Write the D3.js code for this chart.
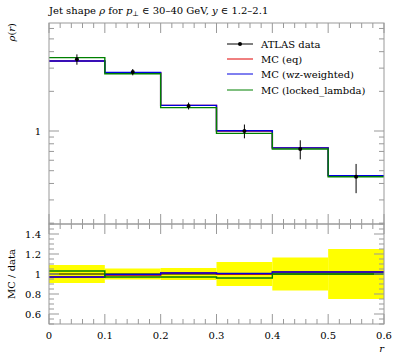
<!DOCTYPE html>
<html><head><meta charset="utf-8">
<script src="https://cdn.jsdelivr.net/npm/d3@7"></script>
<style>
body{margin:0;background:#fff;}
</style></head>
<body><svg id="c" width="397" height="358" font-family="'DejaVu Serif', serif"></svg>
<script>
const binEdges = [0, 0.1, 0.2, 0.3, 0.4, 0.5, 0.6];
const dataVals = [3.5, 2.8, 1.55, 1.0, 0.73, 0.45];
const dataErrRel = [0.09, 0.055, 0.06, 0.12, 0.165, 0.25];
const ratioEq = [0.97, 0.99, 1.01, 1.00, 1.02, 1.02];
const ratioWz = [0.97, 0.995, 1.01, 1.005, 1.02, 1.02];
const ratioLocked = [1.03, 0.97, 0.97, 0.96, 1.00, 1.00];
const seriesNames = ["MC (eq)", "MC (wz-weighted)", "MC (locked_lambda)"];
const seriesColors = ["#e00000", "#0000e0", "#008000"];
const xTicks = [0, 0.1, 0.2, 0.3, 0.4, 0.5, 0.6];
const ratioTicks = [0.6, 0.8, 1, 1.2, 1.4];

const svg = d3.select("#c");
const L = 49, R = 384, T = 23, M = 224, B = 324;
const x = d3.scaleLinear().domain([0, 0.6]).range([L, R]);
const y = d3.scaleLog().domain([0.197, 6.6]).range([M, T]);
const yr = d3.scaleLinear().domain([0.5, 1.5]).range([B, M]);
const axisCol = "#999";
const FS = 10;

const defs = svg.append("defs");
defs.append("clipPath").attr("id","ct").append("rect").attr("x",L).attr("y",T).attr("width",R-L).attr("height",M-T);
defs.append("clipPath").attr("id","cr").append("rect").attr("x",L).attr("y",M).attr("width",R-L).attr("height",B-M);

const ratios = [ratioEq, ratioWz, ratioLocked];
const mcVals = ratios.map(r => r.map((v,i) => v*dataVals[i]));

function stepPath(vals, ys){
  let p = "";
  vals.forEach((v,i)=>{
    const x0 = x(binEdges[i]), x1 = x(binEdges[i+1]), yy = ys(v);
    p += (i===0 ? "M"+x0+","+yy : "L"+x0+","+yy) + "L"+x1+","+yy;
  });
  return p;
}

const gr = svg.append("g").attr("clip-path","url(#cr)");
dataVals.forEach((v,i)=>{
  const e = dataErrRel[i];
  gr.append("rect").attr("x", x(binEdges[i])).attr("width", x(binEdges[i+1])-x(binEdges[i]))
    .attr("y", yr(1+e)).attr("height", yr(1-e)-yr(1+e)).attr("fill","#ffff00");
});
gr.append("line").attr("x1",L).attr("x2",R).attr("y1",yr(1)).attr("y2",yr(1)).attr("stroke","#000").attr("stroke-width",1);
ratios.forEach((r,k)=>{
  gr.append("path").attr("d", stepPath(r, yr)).attr("fill","none").attr("stroke",seriesColors[k]).attr("stroke-width",1.4);
});

const gt = svg.append("g").attr("clip-path","url(#ct)");
mcVals.forEach((m,k)=>{
  gt.append("path").attr("d", stepPath(m, y)).attr("fill","none").attr("stroke",seriesColors[k]).attr("stroke-width",1.4);
});
dataVals.forEach((v,i)=>{
  const cx = x((binEdges[i]+binEdges[i+1])/2);
  gt.append("line").attr("x1",cx).attr("x2",cx).attr("y1",y(v*(1+dataErrRel[i]))).attr("y2",y(v*(1-dataErrRel[i])))
    .attr("stroke","#000").attr("stroke-width",1);
  gt.append("circle").attr("cx",cx).attr("cy",y(v)).attr("r",2).attr("fill","#000");
});

[[T,M],[M,B]].forEach(([a,b])=>{
  svg.append("rect").attr("x",L).attr("y",a).attr("width",R-L).attr("height",b-a)
    .attr("fill","none").attr("stroke",axisCol).attr("stroke-width",1);
});

function tick(x1,y1,x2,y2){
  svg.append("line").attr("x1",x1).attr("y1",y1).attr("x2",x2).attr("y2",y2).attr("stroke",axisCol).attr("stroke-width",1);
}
const xMinor = d3.range(0, 0.6001, 0.02);
[[T,M],[M,B]].forEach(([a,b])=>{
  xMinor.forEach(t=>{
    const major = Math.abs(t*10 - Math.round(t*10)) < 1e-6;
    const len = major ? 10 : 5;
    const px = x(t);
    tick(px, b, px, b-len);
    tick(px, a, px, a+len);
  });
});
const logTicks = [0.2,0.3,0.4,0.5,0.6,0.7,0.8,0.9,1,2,3,4,5,6];
logTicks.forEach(t=>{
  const len = t===1 ? 10 : 5;
  const py = y(t);
  tick(L, py, L+len, py);
  tick(R, py, R-len, py);
});
svg.append("text").attr("x",L-8).attr("y",y(1)+3.5).attr("text-anchor","end").attr("font-size",FS).text("1");
d3.range(0.5, 1.5001, 0.05).forEach(t=>{
  const major = ratioTicks.some(r=>Math.abs(r-t)<1e-6);
  const len = major ? 10 : 5;
  const py = yr(t);
  tick(L, py, L+len, py);
  tick(R, py, R-len, py);
});
ratioTicks.forEach(t=>{
  svg.append("text").attr("x",L-8).attr("y",yr(t)+3.5).attr("text-anchor","end").attr("font-size",FS)
    .text(t===1 ? "1" : d3.format(".1f")(t));
});
xTicks.forEach(t=>{
  svg.append("text").attr("x",x(t)).attr("y",339).attr("text-anchor","middle").attr("font-size",FS)
    .text(t===0 ? "0" : d3.format(".1f")(t));
});
svg.append("text").attr("x",R).attr("y",352).attr("text-anchor","end").attr("font-size",FS).attr("font-style","italic").text("r");

const title = svg.append("text").attr("x",L).attr("y",14).attr("font-size",FS);
title.append("tspan").text("Jet shape ");
title.append("tspan").attr("font-style","italic").text("ρ");
title.append("tspan").text(" for ");
title.append("tspan").attr("font-style","italic").text("p");
title.append("tspan").attr("font-size",7).attr("dy",2).text("⊥");
title.append("tspan").attr("dy",-2).text(" ∈ 30–40 GeV, ");
title.append("tspan").attr("font-style","italic").text("y");
title.append("tspan").text(" ∈ 1.2–2.1");

const yl = svg.append("text").attr("transform","translate(15,"+T+") rotate(-90)").attr("text-anchor","end").attr("font-size",FS);
yl.append("tspan").attr("font-style","italic").text("ρ");
yl.append("tspan").text("(");
yl.append("tspan").attr("font-style","italic").text("r");
yl.append("tspan").text(")");
svg.append("text").attr("transform","translate(15,"+yr(1)+") rotate(-90)").attr("text-anchor","middle").attr("font-size",FS).text("MC / data");

const legY = [44, 59, 74, 90];
const lx0 = 227, lx1 = 253, tx = 261;
svg.append("line").attr("x1",lx0).attr("x2",lx1).attr("y1",legY[0]).attr("y2",legY[0]).attr("stroke","#000").attr("stroke-width",1);
svg.append("circle").attr("cx",(lx0+lx1)/2).attr("cy",legY[0]).attr("r",2).attr("fill","#000");
svg.append("text").attr("x",tx).attr("y",legY[0]+3.5).attr("font-size",FS).text("ATLAS data");
seriesNames.forEach((n,k)=>{
  svg.append("line").attr("x1",lx0).attr("x2",lx1).attr("y1",legY[k+1]).attr("y2",legY[k+1]).attr("stroke",seriesColors[k]).attr("stroke-width",1);
  svg.append("text").attr("x",tx).attr("y",legY[k+1]+3.5).attr("font-size",FS).text(n);
});
</script></body></html>
